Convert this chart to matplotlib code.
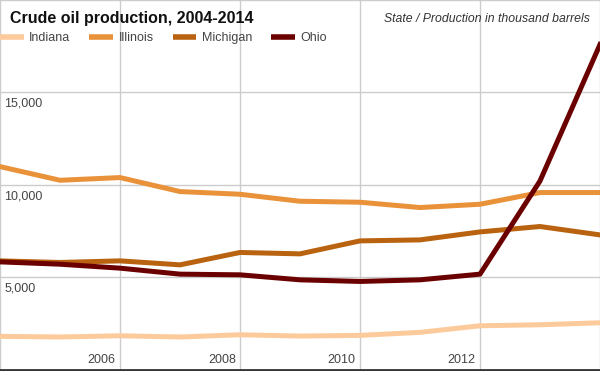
import matplotlib
matplotlib.use("Agg")
import matplotlib.pyplot as plt

plt.rcParams['font.family'] = ['Liberation Sans', 'DejaVu Sans']

years = [2004, 2005, 2006, 2007, 2008, 2009, 2010, 2011, 2012, 2013, 2014]
indiana = [1795, 1760, 1827, 1760, 1881, 1811, 1848, 2011, 2368, 2422, 2530]
illinois = [10983, 10243, 10389, 9632, 9486, 9108, 9054, 8767, 8945, 9578, 9578]
michigan = [5881, 5794, 5881, 5665, 6335, 6260, 6962, 7016, 7448, 7740, 7286]
ohio = [5826, 5700, 5486, 5162, 5125, 4854, 4767, 4854, 5162, 10205, 17593]

series = [("Indiana", indiana, "#fdcb9b"),
          ("Illinois", illinois, "#e9923a"),
          ("Michigan", michigan, "#b9620f"),
          ("Ohio", ohio, "#6b0000")]

ytick_vals = [5000, 10000, 15000]
ytick_labels = ["5,000", "10,000", "15,000"]
xtick_vals = [2006, 2008, 2010, 2012]
xtick_labels = ["2006", "2008", "2010", "2012"]

fig = plt.figure(figsize=(6.0, 3.71), dpi=100)
ax = fig.add_axes([0, 0.004, 1, 0.996])
ax.set_xlim(2004, 2014)
ax.set_ylim(0, 20000)

for v in [5000, 10000, 15000, 20000]:
    ax.axhline(v, color="#cccccc", lw=1.0, zorder=0)
for v in [2004, 2006, 2008, 2010, 2012, 2014]:
    ax.axvline(v, color="#cccccc", lw=1.0, zorder=0)

handles = []
for name, vals, col in series:
    h, = ax.plot(years, vals, color=col, lw=3.6, solid_joinstyle='round', label=name, zorder=3)
    handles.append(h)

for v, lab in zip(ytick_vals, ytick_labels):
    ax.text(2004 + 0.07, v - 300, lab, ha="left", va="top", fontsize=9, color="#444444")
for v, lab in zip(xtick_vals, xtick_labels):
    ax.text(v - 0.07, 170, lab, ha="right", va="bottom", fontsize=9, color="#444444")

ax.set_xticks([])
ax.set_yticks([])
for s in ["top", "left", "right"]:
    ax.spines[s].set_visible(False)
ax.spines["bottom"].set_color("#333333")
ax.spines["bottom"].set_linewidth(2)

fig.text(10 / 600, 1 - 18 / 371, "Crude oil production, 2004-2014", ha="left", va="center",
         fontsize=11.5, fontweight="bold", color="#111111")
fig.text(590 / 600, 1 - 19 / 371, "State / Production in thousand barrels", ha="right", va="center",
         fontsize=8.85, style="italic", color="#333333")

leg = ax.legend(handles=[h for h in handles], ncol=4, loc="center left",
                bbox_to_anchor=(0, 1 - 38 / 371), bbox_transform=fig.transFigure,
                frameon=False, fontsize=9, handlelength=1.9, handletextpad=0.45,
                columnspacing=1.5, borderpad=0, borderaxespad=0)
for t in leg.get_texts():
    t.set_color("#444444")
for lh in leg.get_lines():
    lh.set_linewidth(4)
    lh.set_solid_capstyle('butt')

fig.savefig("out.png", dpi=100)
